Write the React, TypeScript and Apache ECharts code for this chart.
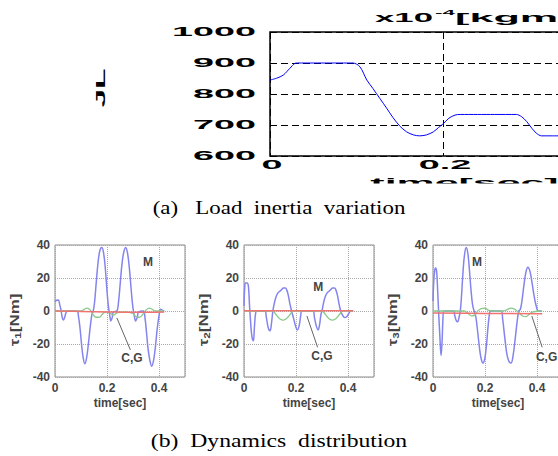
import React, { useEffect, useRef } from "react";
import * as echarts from "echarts";

// ---------- (a) Load inertia variation ----------
const inertiaTime = [0, 0.0077, 0.0154, 0.023, 0.029, 0.032, 0.05, 0.07, 0.09, 0.096, 0.104, 0.112, 0.119, 0.127, 0.135, 0.142, 0.15, 0.158, 0.166, 0.173, 0.181, 0.189, 0.195, 0.2, 0.207, 0.214, 0.22, 0.24, 0.26, 0.285, 0.291, 0.297, 0.303, 0.308, 0.314, 0.325, 0.34];
const inertiaValue = [845, 851, 861, 883, 899, 900, 900, 900, 900, 900, 888, 845, 818, 786, 754, 725, 697, 678, 668, 665, 668, 678, 692, 703, 722, 732, 734, 734, 734, 734, 727, 711, 689, 674, 665, 665, 665];
const inertiaYTicks = [600, 700, 800, 900, 1000];
const inertiaXTicks = [0, 0.2];
const inertiaXTickLabels = ["0", "0.2"];

// ---------- (b) Dynamics distribution ----------
const tau1M: number[][] = [[0, 5.5], [0.006, 6.5], [0.013, 6.7], [0.018, 4], [0.023, 0.6], [0.028, -4], [0.032, -5.5], [0.037, -4], [0.042, -1.2], [0.049, 0], [0.085, 0], [0.09, -3], [0.096, -10], [0.102, -20], [0.108, -28], [0.115, -32], [0.122, -28], [0.129, -19], [0.136, -9], [0.142, -2], [0.147, 0], [0.152, 5], [0.159, 18], [0.166, 30], [0.173, 37], [0.18, 38.5], [0.187, 35], [0.194, 25], [0.2, 12], [0.206, 2], [0.21, -2], [0.215, -6], [0.22, -4], [0.225, -0.5], [0.238, 0], [0.244, 5], [0.251, 17], [0.258, 29], [0.265, 36], [0.272, 38.5], [0.279, 35], [0.286, 26], [0.293, 13], [0.299, 3], [0.304, -2], [0.31, -6], [0.316, -4], [0.322, -0.5], [0.34, 0], [0.346, -4], [0.352, -13], [0.358, -23], [0.365, -30], [0.372, -33.5], [0.379, -30], [0.386, -22], [0.393, -11], [0.4, -3], [0.406, 1], [0.412, 0.5], [0.42, 0]];
const tau1CG: number[][] = [[0, 0], [0.1, 0], [0.112, 1], [0.124, 1.8], [0.136, 0.5], [0.146, -2], [0.158, -3.8], [0.17, -3.8], [0.182, -2], [0.195, -0.5], [0.21, -1], [0.225, -2.5], [0.24, -1], [0.27, -0.5], [0.3, -1.5], [0.312, -3.5], [0.325, -3.8], [0.338, -2], [0.35, 0.5], [0.362, 1.8], [0.374, 1], [0.386, 0], [0.42, 0]];
const tau1R: number[][] = [[0, 0], [0.1, -0.3], [0.2, -0.6], [0.3, -0.8], [0.42, -0.6]];

const tau2M: number[][] = [[0, 3], [0.003, 15], [0.006, 17], [0.012, 17], [0.017, 15], [0.021, 4], [0.026, -8], [0.031, -16], [0.036, -18], [0.04, -10], [0.045, -1], [0.05, 0], [0.08, 0], [0.086, -4], [0.093, -10], [0.1, -12], [0.106, -7], [0.111, 0], [0.117, 5], [0.124, 9], [0.131, 11], [0.138, 12], [0.145, 13], [0.152, 14], [0.159, 14], [0.165, 12.5], [0.171, 9], [0.177, 4], [0.183, 0], [0.19, -4], [0.198, -9], [0.205, -11.5], [0.212, -9], [0.218, -3], [0.223, 0], [0.265, 0], [0.271, -4], [0.278, -9], [0.285, -11.5], [0.291, -8], [0.296, -2], [0.3, 0], [0.306, 5], [0.313, 9], [0.32, 11], [0.327, 12], [0.334, 13], [0.341, 14], [0.348, 14], [0.354, 12.5], [0.36, 9], [0.366, 4], [0.372, 0], [0.379, -2.5], [0.387, -4], [0.395, -3.5], [0.403, -1.5], [0.41, 0], [0.42, 0]];
const tau2CG: number[][] = [[0, 0], [0.11, 0], [0.12, -1.5], [0.13, -3.5], [0.14, -5], [0.15, -5.5], [0.16, -5], [0.17, -3.5], [0.18, -1.5], [0.19, 0], [0.3, 0], [0.31, -1.5], [0.32, -3.5], [0.33, -5], [0.34, -5.5], [0.35, -5], [0.36, -3.5], [0.37, -1.5], [0.38, 0], [0.42, 0]];
const tau2R: number[][] = [[0, 0.2], [0.42, 0.2]];

const tau3M: number[][] = [[0, 6], [0.003, 18], [0.007, 25], [0.01, 26], [0.014, 24], [0.018, 12], [0.022, -2], [0.026, -14], [0.031, -27], [0.035, -18], [0.038, -6], [0.042, 0], [0.078, 0], [0.084, -3], [0.09, -6], [0.095, -6.5], [0.1, -4], [0.105, 0], [0.11, 10], [0.116, 25], [0.122, 35], [0.128, 38.5], [0.134, 35], [0.14, 25], [0.146, 13], [0.152, 4], [0.158, 0], [0.164, -3], [0.17, -10], [0.177, -20], [0.184, -28], [0.192, -31.5], [0.199, -29], [0.206, -20], [0.212, -9], [0.218, -1], [0.222, 0], [0.262, 0], [0.268, -5], [0.276, -16], [0.284, -26], [0.292, -30.5], [0.3, -31.5], [0.308, -27], [0.316, -17], [0.324, -6], [0.33, 0], [0.336, 1], [0.342, 6], [0.35, 16], [0.358, 24], [0.365, 26.5], [0.373, 24], [0.381, 17], [0.389, 9], [0.397, 3], [0.405, 0], [0.418, 0]];
const tau3CG: number[][] = [[0, 0], [0.12, 0], [0.135, -1.5], [0.148, -3], [0.16, -2.5], [0.172, 0], [0.185, 1.5], [0.2, 1.8], [0.212, 0.5], [0.23, 0], [0.27, 0], [0.285, 0.8], [0.3, 1.8], [0.315, 1], [0.33, -1], [0.345, -3], [0.358, -3.4], [0.37, -2], [0.385, -0.5], [0.42, 0]];
const tau3R: number[][] = [[0, -1.2], [0.2, -1.5], [0.42, -1.6]];

const tauNames = ["1", "2", "3"];
const mLabelAt: number[][] = [[0.358, 29.7], [0.286, 14.4], [0.169, 29.7]];
const cgLabelAt: number[][] = [[0.296, -28.5], [0.3, -27], [0.437, -28]];
const cgPointerFrom: number[][] = [[0.238, -4.2], [0.242, -3], [0.38, -3]];
const cgPointerTo: number[][] = [[0.29, -23.6], [0.283, -22], [0.42, -22]];

const W = 558;
const H = 456;
const INNER_W = 720;

export default function App() {
  const ref = useRef<HTMLDivElement>(null);

  useEffect(() => {
    if (!ref.current) return;
    const chart = echarts.init(ref.current, null, { renderer: "svg" });

    const bottomLefts = [55, 244, 433];
    const grids: any[] = [
      { left: 270, top: 32, width: 389, height: 124, show: true, borderColor: "#000", borderWidth: 1.5, containLabel: false },
    ];
    bottomLefts.forEach((l) =>
      grids.push({ left: l, top: 245, width: 130, height: 132, show: true, borderColor: "#8a8a8a", borderWidth: 1, containLabel: false })
    );

    const smallFont = { fontFamily: "Liberation Sans", fontSize: 12, fontWeight: "bold", color: "#444" };

    const xAxes: any[] = [
      {
        type: "value", gridIndex: 0, min: 0, max: 0.45, interval: 0.2,
        axisLine: { show: false }, axisTick: { show: false }, axisLabel: { show: false },
        splitLine: { show: true, lineStyle: { color: "#000", width: 1, type: [7, 4] } },
      },
    ];
    const yAxes: any[] = [
      {
        type: "value", gridIndex: 0, min: 600, max: 1000, interval: 100,
        axisLine: { show: false }, axisTick: { show: false }, axisLabel: { show: false },
        splitLine: { show: true, lineStyle: { color: "#000", width: 1, type: [7, 4] } },
      },
    ];
    for (let i = 1; i <= 3; i++) {
      xAxes.push({
        type: "value", gridIndex: i, min: 0, max: 0.5, interval: 0.2,
        axisLine: { show: false }, axisTick: { show: false },
        axisLabel: { ...smallFont, margin: 5, showMaxLabel: false },
        splitLine: { show: true, lineStyle: { color: "#aaa", width: 1, type: "dotted" } },
      });
      yAxes.push({
        type: "value", gridIndex: i, min: -40, max: 40, interval: 20,
        axisLine: { show: false }, axisTick: { show: false },
        axisLabel: { ...smallFont, margin: 5 },
        splitLine: { show: true, lineStyle: { color: "#aaa", width: 1, type: "dotted" } },
      });
    }

    const lineSeries = (data: number[][], idx: number, color: string, width: number, z: number) => ({
      type: "line", xAxisIndex: idx, yAxisIndex: idx, data, showSymbol: false, smooth: 0.4,
      lineStyle: { color, width }, z, silent: true,
    });

    const series: any[] = [
      {
        type: "line", xAxisIndex: 0, yAxisIndex: 0,
        data: inertiaTime.map((t, i) => [t, inertiaValue[i]]),
        showSymbol: false, smooth: 0.3, lineStyle: { color: "#0000ff", width: 1 }, silent: true,
      },
    ];
    const sets = [
      [tau1M, tau1CG, tau1R],
      [tau2M, tau2CG, tau2R],
      [tau3M, tau3CG, tau3R],
    ];
    sets.forEach((s, k) => {
      const idx = k + 1;
      series.push(lineSeries(s[0], idx, "#8484ee", 1.5, 3));
      series.push(lineSeries(s[1], idx, "#8aca8a", 1.3, 4));
      series.push(lineSeries(s[2], idx, "#f07272", 1.5, 5));
    });

    chart.setOption({
      animation: false,
      backgroundColor: "#fff",
      grid: grids,
      xAxis: xAxes,
      yAxis: yAxes,
      series,
    });

    const px = (gi: number, x: number, y: number) => chart.convertToPixel({ gridIndex: gi } as any, [x, y]) as number[];
    const big = 'bold 12px "Liberation Sans"';
    const graphic: any[] = [];

    // top chart tick labels (stretched like the source)
    inertiaYTicks.forEach((v) => {
      const p = px(0, 0, v);
      graphic.push({ type: "text", x: p[0] - 14, y: p[1], scaleX: 3.15, style: { text: String(v), font: big, fill: "#000", align: "right", verticalAlign: "middle" } });
    });
    inertiaXTicks.forEach((t, i) => {
      const p = px(0, t, 600);
      graphic.push({ type: "text", x: p[0] + 2, y: p[1] + 9, scaleX: 3.15, style: { text: inertiaXTickLabels[i], font: big, fill: "#000", align: "center", verticalAlign: "middle" } });
    });
    // top title / unit
    graphic.push({ type: "text", x: 375, y: 18, scaleX: 2.9, style: { text: "x10", font: big, fill: "#000", align: "left", verticalAlign: "middle" } });
    graphic.push({ type: "text", x: 435, y: 12, scaleX: 2.8, style: { text: "-4", font: 'bold 8px "Liberation Sans"', fill: "#000", align: "left", verticalAlign: "middle" } });
    graphic.push({ type: "text", x: 455, y: 18, scaleX: 3.6, style: { text: "[kgm²]", font: big, fill: "#000", align: "left", verticalAlign: "middle" } });
    // top x-axis name (clipped by the crop)
    const xc = px(0, 0.225, 600);
    graphic.push({ type: "text", x: xc[0], y: 176, scaleX: 3.3, style: { text: "time[sec]", font: 'bold 13px "Liberation Sans"', fill: "#000", align: "center", verticalAlign: "top" } });
    graphic.push({ type: "rect", shape: { x: 0, y: 183.5, width: INNER_W, height: 13 }, style: { fill: "#fff" }, z: 100 });
    // garbled y label of top chart
    graphic.push({ type: "text", x: 101, y: 88, rotation: Math.PI / 2, scaleX: 2.8, style: { text: "JL", font: 'bold 12px "Liberation Sans"', fill: "#000", align: "center", verticalAlign: "middle" } });

    // bottom annotations
    for (let k = 0; k < 3; k++) {
      const gi = k + 1;
      const m = px(gi, mLabelAt[k][0], mLabelAt[k][1]);
      graphic.push({ type: "text", x: m[0], y: m[1], style: { text: "M", font: 'bold 12px "Liberation Sans"', fill: "#444", align: "center", verticalAlign: "middle" } });
      const c = px(gi, cgLabelAt[k][0], cgLabelAt[k][1]);
      graphic.push({ type: "text", x: c[0], y: c[1], style: { text: "C,G", font: 'bold 12px "Liberation Sans"', fill: "#444", align: "center", verticalAlign: "middle" } });
      const a = px(gi, cgPointerFrom[k][0], cgPointerFrom[k][1]);
      const b = px(gi, cgPointerTo[k][0], cgPointerTo[k][1]);
      graphic.push({ type: "line", shape: { x1: a[0], y1: a[1], x2: b[0], y2: b[1] }, style: { stroke: "#666", lineWidth: 1 }, z: 10 });
      // y axis name
      const yc = px(gi, 0, 0);
      graphic.push({
        type: "text", x: yc[0] - 41, y: yc[1] + 9, rotation: Math.PI / 2, scaleX: 1.3,
        style: {
          text: "{a|τ}{b|" + tauNames[k] + "}{a|[Nm]}", align: "center", verticalAlign: "middle",
          rich: {
            a: { font: 'bold 13px "Liberation Sans"', fill: "#444", lineHeight: 17, verticalAlign: "middle" },
            b: { font: 'bold 9px "Liberation Sans"', fill: "#444", lineHeight: 10, verticalAlign: "bottom" },
          },
        },
      });
      // x axis name
      const xn = px(gi, 0.25, -40);
      graphic.push({ type: "text", x: xn[0], y: xn[1] + 26, style: { text: "time[sec]", font: 'bold 12px "Liberation Sans"', fill: "#444", align: "center", verticalAlign: "middle" } });
    }

    // captions
    const cap = '18.5px "Liberation Serif"';
    graphic.push({ type: "text", x: 279, y: 208, scaleX: 1.24, style: { text: "(a)\u00a0\u00a0\u00a0Load\u00a0\u00a0inertia\u00a0\u00a0variation", font: cap, fill: "#000", align: "center", verticalAlign: "middle" } });
    graphic.push({ type: "text", x: 279, y: 441, scaleX: 1.28, style: { text: "(b)\u00a0\u00a0Dynamics\u00a0\u00a0distribution", font: cap, fill: "#000", align: "center", verticalAlign: "middle" } });

    chart.setOption({ graphic });

    return () => chart.dispose();
  }, []);

  return (
    <div style={{ position: "absolute", left: 0, top: 0, width: W, height: H, overflow: "hidden", background: "#fff" }}>
      <div ref={ref} style={{ width: INNER_W, height: H }} />
    </div>
  );
}
